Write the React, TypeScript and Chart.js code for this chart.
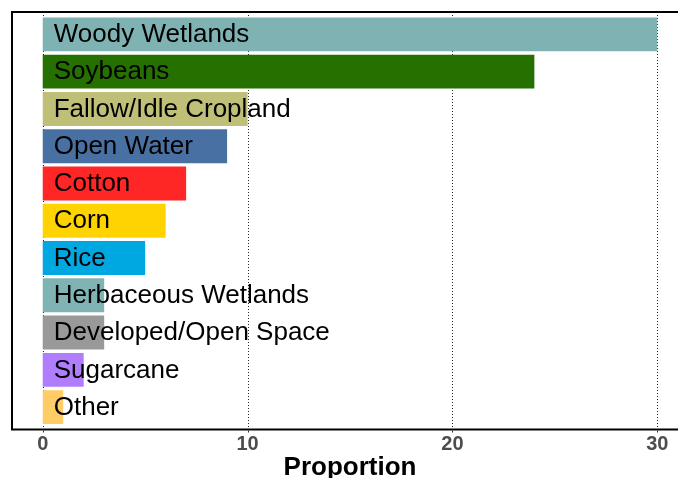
import React, { useEffect, useRef } from "react";
import { Chart, registerables } from "chart.js";

Chart.register(...registerables);

const categories = [
  "Woody Wetlands",
  "Soybeans",
  "Fallow/Idle Cropland",
  "Open Water",
  "Cotton",
  "Corn",
  "Rice",
  "Herbaceous Wetlands",
  "Developed/Open Space",
  "Sugarcane",
  "Other",
];
const proportions = [30, 24, 10, 9, 7, 6, 5, 3, 3, 2, 1];
const barColors = [
  "#7FB2B2",
  "#267000",
  "#BFBF77",
  "#4970A3",
  "#FF2626",
  "#FFD300",
  "#00A8E2",
  "#80B3B3",
  "#999999",
  "#B07DFF",
  "#FFCC66",
];
const xTicks = [0, 10, 20, 30];
const xTickLabels = ["0", "10", "20", "30"];
const xTitle = "Proportion";

const decorPlugin = {
  id: "decor",
  beforeDatasetsDraw(chart: any) {
    const { ctx, chartArea, scales } = chart;
    const xs = scales.x;
    ctx.save();
    ctx.strokeStyle = "#222";
    ctx.lineWidth = 1;
    ctx.setLineDash([1, 2]);
    for (const t of xTicks) {
      const px = Math.round(xs.getPixelForValue(t)) + 0.5;
      ctx.beginPath();
      ctx.moveTo(px, chartArea.top);
      ctx.lineTo(px, chartArea.bottom);
      ctx.stroke();
    }
    ctx.restore();
  },
  afterDatasetsDraw(chart: any) {
    const { ctx, chartArea, scales } = chart;
    const xs = scales.x;
    const ys = scales.y;
    ctx.save();
    ctx.font = "26px 'Liberation Sans', Arial, sans-serif";
    ctx.fillStyle = "#000";
    ctx.textAlign = "left";
    ctx.textBaseline = "middle";
    const x0 = xs.getPixelForValue(0);
    categories.forEach((c, i) => {
      ctx.fillText(c, x0 + 11, ys.getPixelForValue(i) + 0.5);
    });
    // panel box
    ctx.strokeStyle = "#000";
    ctx.lineWidth = 2;
    ctx.strokeRect(chartArea.left, chartArea.top, chartArea.right - chartArea.left, chartArea.bottom - chartArea.top);
    // tick marks and labels
    ctx.strokeStyle = "#333";
    ctx.lineWidth = 1;
    ctx.font = "bold 20px 'Liberation Sans', Arial, sans-serif";
    ctx.fillStyle = "#4D4D4D";
    ctx.textAlign = "center";
    ctx.textBaseline = "alphabetic";
    xTicks.forEach((t, i) => {
      const px = Math.round(xs.getPixelForValue(t)) + 0.5;
      ctx.beginPath();
      ctx.moveTo(px, chartArea.bottom + 1);
      ctx.lineTo(px, chartArea.bottom + 3);
      ctx.stroke();
      ctx.fillText(xTickLabels[i], xs.getPixelForValue(t), 449.5);
    });
    // axis title
    ctx.font = "bold 26px 'Liberation Sans', Arial, sans-serif";
    ctx.textAlign = "center";
    ctx.textBaseline = "alphabetic";
    ctx.fillStyle = "#000";
    ctx.fillText(xTitle, (chartArea.left + chartArea.right) / 2, 475);
    ctx.restore();
  },
};

export default function App() {
  const ref = useRef<HTMLCanvasElement>(null);
  useEffect(() => {
    if (!ref.current) return;
    const chart = new Chart(ref.current, {
      type: "bar",
      data: {
        datasets: [
          {
            data: proportions.map((v, i) => ({ x: v, y: i })),
            backgroundColor: barColors,
            borderWidth: 0,
            barPercentage: 0.91,
            categoryPercentage: 1,
          },
        ],
      },
      options: {
        indexAxis: "y",
        animation: false,
        responsive: false,
        maintainAspectRatio: false,
        layout: { padding: { left: 12, right: 2, top: 12, bottom: 48.5 } },
        plugins: {
          legend: { display: false },
          tooltip: { enabled: false },
          title: { display: false },
        },
        scales: {
          y: {
            type: "linear",
            min: -0.6,
            max: 10.6,
            reverse: true,
            offset: false,
            grace: 0,
            display: false,
            afterBuildTicks: (axis: any) => {
              axis.ticks = categories.map((_, i) => ({ value: i }));
            },
          },
          x: {
            type: "linear",
            min: -1.5,
            max: 31.5,
            display: false,
            afterBuildTicks: (axis: any) => {
              axis.ticks = xTicks.map((v) => ({ value: v }));
            },
          },
        },
      },
      plugins: [decorPlugin],
    } as any);
    return () => chart.destroy();
  }, []);
  return (
    <div style={{ position: "fixed", left: 0, top: 0, width: 678, height: 478, overflow: "hidden", background: "#fff" }}>
      <canvas ref={ref} width={690} height={478} style={{ display: "block", width: 690, height: 478 }} />
    </div>
  );
}
